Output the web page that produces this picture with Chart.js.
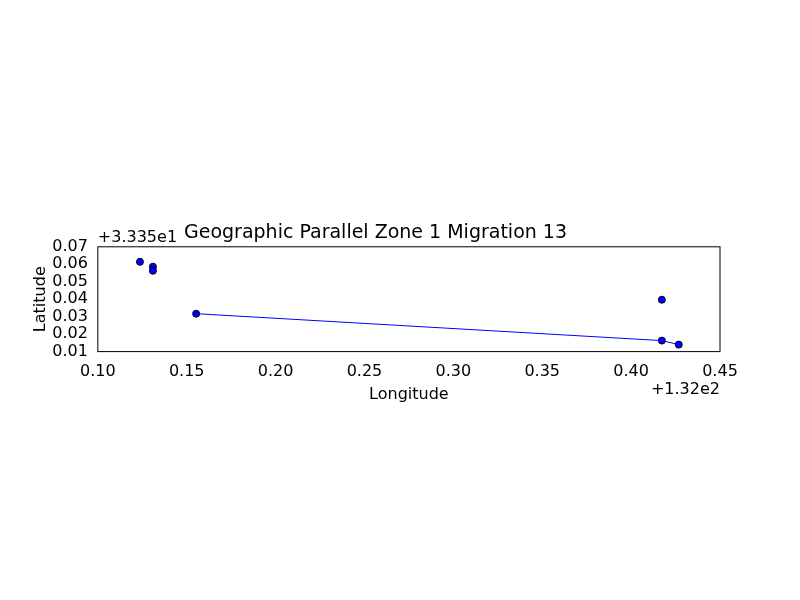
<!DOCTYPE html>
<html>
<head>
<script src="https://cdn.jsdelivr.net/npm/chart.js@4"></script>
<style>body{margin:0;background:#fff}#c{display:block}</style>
</head>
<body>
<canvas id="c" width="800" height="600"></canvas>
<script>
// offsets: x + 132, y + 33.35
var scatterLon = [0.1237, 0.131, 0.131, 0.1553, 0.4173, 0.4173, 0.4268];
var scatterLat = [0.0614, 0.0586, 0.0563, 0.0317, 0.0397, 0.0163, 0.0140];
var lineLon = [0.1553, 0.4173, 0.4268];
var lineLat = [0.0317, 0.0163, 0.0140];
var xTicks = [0.10, 0.15, 0.20, 0.25, 0.30, 0.35, 0.40, 0.45];
var yTicks = [0.01, 0.02, 0.03, 0.04, 0.05, 0.06, 0.07];

function pts(xs, ys) { return xs.map(function (x, i) { return {x: x, y: ys[i]}; }); }

var extras = {
    id: 'extras',
    afterDraw: function (chart) {
        var c = chart.ctx, a = chart.chartArea;
        c.save();
        c.strokeStyle = '#000'; c.lineWidth = 1;
        c.strokeRect(a.left, a.top, a.right - a.left, a.bottom - a.top);
        c.fillStyle = '#000';
        c.font = '16px "DejaVu Sans"';
        c.textAlign = 'left'; c.textBaseline = 'bottom';
        c.fillText('+3.335e1', a.left, a.top - 1);
        c.textAlign = 'right'; c.textBaseline = 'top';
        c.fillText('+1.32e2', a.right, a.bottom + 30);
        c.restore();
    }
};

new Chart(document.getElementById('c').getContext('2d'), {
    type: 'scatter',
    data: {
        datasets: [{
            data: pts(lineLon, lineLat),
            showLine: true,
            borderColor: '#0000ff',
            borderWidth: 1,
            pointRadius: 0
        }, {
            data: pts(scatterLon, scatterLat),
            backgroundColor: '#0000ff',
            borderColor: '#000',
            borderWidth: 1,
            pointRadius: 3.5
        }]
    },
    options: {
        responsive: false,
        animation: false,
        layout: {padding: {left: 31, right: 80, top: 222, bottom: 196}},
        plugins: {
            legend: {display: false},
            tooltip: {enabled: false},
            title: {display: true, text: 'Geographic Parallel Zone 1 Migration 13', color: '#000',
                font: {family: 'DejaVu Sans', size: 19, weight: 'normal'}, padding: {top: 0, bottom: 2}}
        },
        scales: {
            x: {
                type: 'linear', min: 0.10, max: 0.45,
                afterBuildTicks: function (s) { s.ticks = xTicks.map(function (v) { return {value: v}; }); },
                ticks: {color: '#000', font: {family: 'DejaVu Sans', size: 16}, maxRotation: 0, autoSkip: false,
                    callback: function (v) { return v.toFixed(2); }},
                grid: {display: false},
                border: {display: false},
                title: {display: true, text: 'Longitude', color: '#000', font: {family: 'DejaVu Sans', size: 16}, padding: 0}
            },
            y: {
                type: 'linear', min: 0.01, max: 0.07,
                afterBuildTicks: function (s) { s.ticks = yTicks.map(function (v) { return {value: v}; }); },
                ticks: {color: '#000', font: {family: 'DejaVu Sans', size: 16}, autoSkip: false, padding: 2,
                    callback: function (v) { return v.toFixed(2); }},
                grid: {display: false},
                border: {display: false},
                title: {display: true, text: 'Latitude', color: '#000', font: {family: 'DejaVu Sans', size: 16}, padding: 0}
            }
        }
    },
    plugins: [extras]
});
</script>
</body>
</html>
